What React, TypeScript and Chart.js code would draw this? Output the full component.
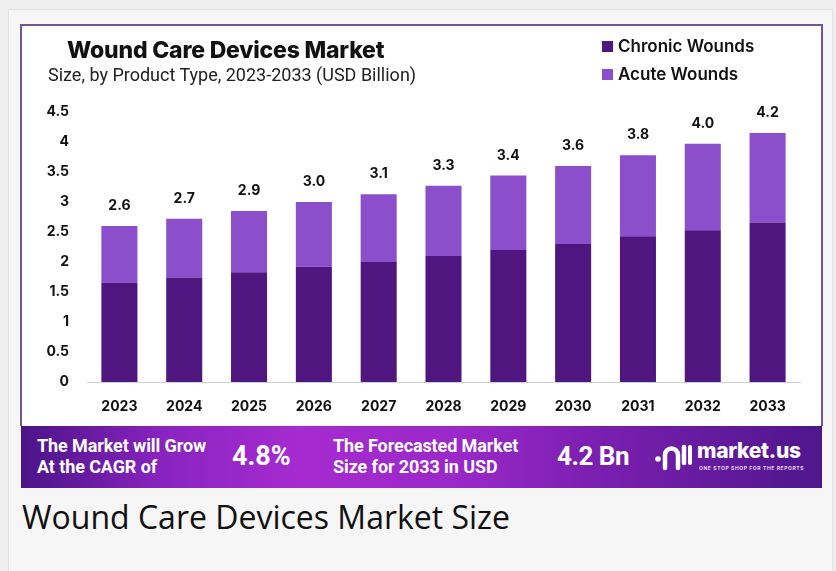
import React, { useEffect, useRef } from "react";
import { Chart, registerables } from "chart.js";

Chart.register(...registerables);

const years = ["2023", "2024", "2025", "2026", "2027", "2028", "2029", "2030", "2031", "2032", "2033"];
const chronicWounds = [1.66, 1.74, 1.83, 1.92, 2.0, 2.1, 2.2, 2.3, 2.43, 2.53, 2.66];
const acuteWounds = [0.94, 0.98, 1.02, 1.08, 1.13, 1.17, 1.24, 1.3, 1.35, 1.44, 1.49];
const totalLabels = ["2.6", "2.7", "2.9", "3.0", "3.1", "3.3", "3.4", "3.6", "3.8", "4.0", "4.2"];
const yTicks = ["0", "0.5", "1", "1.5", "2", "2.5", "3", "3.5", "4", "4.5"];

const CHRONIC = "#4f1680";
const ACUTE = "#8b4fcc";
const FONT = "Inter, 'Open Sans', sans-serif";

const totalsPlugin = {
  id: "totals",
  afterDatasetsDraw(chart: any) {
    const ctx = chart.ctx;
    const meta = chart.getDatasetMeta(1);
    ctx.save();
    ctx.font = `700 14px ${FONT}`;
    ctx.fillStyle = "#111";
    ctx.textAlign = "center";
    ctx.textBaseline = "middle";
    meta.data.forEach((bar: any, i: number) => {
      ctx.fillText(totalLabels[i], bar.x, bar.y - 20);
    });
    ctx.restore();
  },
};

function BarChart() {
  const ref = useRef<HTMLCanvasElement>(null);
  useEffect(() => {
    if (!ref.current) return;
    const chart = new Chart(ref.current, {
      type: "bar",
      data: {
        labels: years,
        datasets: [
          { label: "Chronic Wounds", data: chronicWounds, backgroundColor: CHRONIC, barPercentage: 0.556, categoryPercentage: 1 },
          { label: "Acute Wounds", data: acuteWounds, backgroundColor: ACUTE, barPercentage: 0.556, categoryPercentage: 1 },
        ],
      },
      options: {
        animation: false,
        responsive: false,
        maintainAspectRatio: false,
        layout: { padding: { left: 0, right: 20, top: 86, bottom: 0 } },
        plugins: { legend: { display: false }, title: { display: false }, tooltip: { enabled: false } },
        scales: {
          x: {
            stacked: true,
            grid: { display: false, drawTicks: false },
            border: { display: true, color: "#cfcfd8", width: 1 },
            ticks: { color: "#111", font: { family: FONT, size: 14, weight: "700" }, padding: 16 },
            afterFit: (s: any) => { s.height = 43; },
          },
          y: {
            stacked: true,
            min: 0,
            max: 4.5,
            grid: { display: false, drawTicks: false },
            border: { display: false },
            ticks: {
              stepSize: 0.5,
              color: "#111",
              padding: 18,
              font: { family: FONT, size: 14, weight: "700" },
              callback: (_v: any, i: number) => yTicks[i],
            },
            afterFit: (s: any) => { s.width = 65; },
          },
        },
      },
      plugins: [totalsPlugin],
    });
    return () => chart.destroy();
  }, []);
  return <canvas ref={ref} width={798} height={399} style={{ position: "absolute", left: 22, top: 26, width: 798, height: 399 }} />;
}

export default function App() {
  const white = "#fff";
  return (
    <div style={{ position: "fixed", left: 0, top: 0, width: 836, height: 571, background: "#efefef", overflow: "hidden", fontFamily: FONT }}>
      <div style={{ position: "absolute", left: 8, top: 9, width: 823, height: 570, background: "#f6f6f6", border: "1px solid #e2e2e2" }} />
      <div style={{ position: "absolute", left: 20, top: 24, width: 799, height: 400, background: "#fff", border: "2px solid #735592", borderBottom: "none" }} />
      <BarChart />
      <div style={{ position: "absolute", left: 67, top: 36, fontSize: 23, fontWeight: 800, color: "#111", letterSpacing: -0.2, lineHeight: "28px" }}>Wound Care Devices Market</div>
      <div style={{ position: "absolute", left: 48, top: 64, fontSize: 18, fontFamily: "Roboto, sans-serif", color: "#222", lineHeight: "22px" }}>Size, by Product Type, 2023-2033 (USD Billion)</div>
      <div style={{ position: "absolute", left: 602, top: 35, display: "flex", alignItems: "center", fontSize: 17, fontWeight: 600, color: "#111", lineHeight: "22px" }}>
        <span style={{ width: 11, height: 11, background: CHRONIC, marginRight: 5, display: "inline-block" }} />Chronic Wounds
      </div>
      <div style={{ position: "absolute", left: 602, top: 63, display: "flex", alignItems: "center", fontSize: 17, fontWeight: 600, color: "#111", lineHeight: "22px" }}>
        <span style={{ width: 11, height: 11, background: ACUTE, marginRight: 5, display: "inline-block" }} />Acute Wounds
      </div>
      <div style={{ position: "absolute", left: 21, top: 426, width: 801, height: 62, background: "linear-gradient(90deg, #4b1488 0%, #8a24c0 18%, #a62bd0 35%, #9a28c8 55%, #7a1fb0 72%, #4f168c 100%)" }}>
        <div style={{ position: "absolute", left: 16, top: 9, color: white, fontSize: 18, fontWeight: 700, lineHeight: "21px", fontFamily: "Roboto, sans-serif", letterSpacing: -0.1 }}>The Market will Grow<br />At the CAGR of</div>
        <div style={{ position: "absolute", left: 211, top: 14, color: white, fontSize: 27, fontWeight: 700, fontFamily: "Roboto, sans-serif", lineHeight: "32px" }}>4.8%</div>
        <div style={{ position: "absolute", left: 312, top: 9, color: white, fontSize: 18, fontWeight: 700, lineHeight: "21px", fontFamily: "Roboto, sans-serif", letterSpacing: -0.1 }}>The Forecasted Market<br />Size for 2033 in USD</div>
        <div style={{ position: "absolute", left: 536, top: 14, color: white, fontSize: 26, fontWeight: 700, fontFamily: "Roboto, sans-serif", lineHeight: "32px", letterSpacing: -0.5 }}>4.2 Bn</div>
        <svg style={{ position: "absolute", left: 633, top: 16 }} width="38" height="30" viewBox="0 0 38 30">
          <circle cx="4" cy="17" r="2.8" fill="#fff" />
          <path d="M11 26 V13 a6.5 6.5 0 0 1 13 0 V26" stroke="#fff" strokeWidth="4.5" fill="none" strokeLinecap="round" />
          <path d="M30 5 V21" stroke="#fff" strokeWidth="4.5" strokeLinecap="round" />
          <path d="M36 5 V21" stroke="#fff" strokeWidth="4" strokeLinecap="round" />
        </svg>
        <div style={{ position: "absolute", left: 676, top: 11, color: white, fontSize: 21, fontWeight: 800, letterSpacing: -0.3, lineHeight: "28px" }}>market.us</div>
        <div style={{ position: "absolute", left: 678, top: 39, color: "#e8d8f4", fontSize: 5, fontWeight: 700, letterSpacing: 0.6 }}>ONE STOP SHOP FOR THE REPORTS</div>
      </div>
      <div style={{ position: "absolute", left: 22, top: 495, fontSize: 32, fontFamily: "'Open Sans', sans-serif", color: "#111", fontWeight: 400, lineHeight: "44px" }}>Wound Care Devices Market Size</div>
    </div>
  );
}
